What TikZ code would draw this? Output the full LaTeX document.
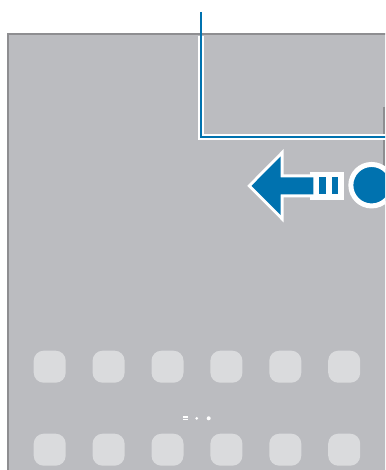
\documentclass[tikz,border=0pt]{standalone}
\usetikzlibrary{calc}
\definecolor{screen}{HTML}{BBBCC0}
\definecolor{frame}{HTML}{8E8E91}
\definecolor{iconc}{HTML}{DADBDD}
\definecolor{sblue}{HTML}{0072AF}
\begin{document}
\begin{tikzpicture}[x=1pt,y=-1pt,
  appicon/.style={fill=iconc,draw=none,rounded corners=10pt,minimum width=32pt,minimum height=32pt,inner sep=0pt},
  pagedot/.style={circle,fill=white,draw=none,minimum size=4pt,inner sep=0pt}]
\useasboundingbox (0,0) rectangle (385,470);
\begin{scope}
\clip (0,0) rectangle (385,470);
% screen
\fill[screen] (7,33) rectangle (390,475);
\draw[frame,line width=2pt] (8,475) -- (8,34) -- (390,34);
% side key
\draw[frame,line width=2pt] (384,107) -- (384,170);
% indicator line
\coordinate (ltop) at (201,12);
\coordinate (lcorner) at (201,137);
\coordinate (lend) at (386,137);
\draw[white,line width=6pt] (201,36) -- (lcorner) -- (lend);
\draw[sblue,line width=2pt] (ltop) -- (lcorner) -- (lend);
% arrow frame with bars
\fill[white] (310,172.5) rectangle (343.5,199.5);
\fill[sblue] (319,177.3) rectangle (326,194.3);
\fill[sblue] (331.7,177.3) rectangle (338.3,194.3);
\draw[white,fill=white,line width=6pt,line join=miter]
  (251.5,185.8) -- (280.5,156.5) -- (280.5,177.3) -- (313.3,177.3) -- (313.3,194.3) -- (280.5,194.3) -- (280.5,215) -- cycle;
\fill[sblue]
  (251.5,185.8) -- (280.5,156.5) -- (280.5,177.3) -- (313.3,177.3) -- (313.3,194.3) -- (280.5,194.3) -- (280.5,215) -- cycle;
% touch circle
\node[circle,fill=sblue,draw=white,line width=5pt,minimum size=41.5pt,inner sep=0pt] (touch) at (371.6,185.2) {};
% icons
\foreach \i/\x in {1/49.7,2/108.6,3/167.5,4/226.4,5/285.3,6/344.2}{
  \node[appicon] (ra\i) at (\x,366.7) {};
  \node[appicon] (rb\i) at (\x,449.7) {};
}
% page indicator
\node[fill=white,minimum width=5.5pt,minimum height=1.2pt,inner sep=0pt] (pg1a) at (185.5,416.9) {};
\node[fill=white,minimum width=5.5pt,minimum height=1.2pt,inner sep=0pt] (pg1b) at (185.5,419.4) {};
\node[pagedot,minimum size=3pt] (pg2) at (196.7,418.3) {};
\node[pagedot] (pg3) at (208.7,418.3) {};
\end{scope}
\end{tikzpicture}
\end{document}
